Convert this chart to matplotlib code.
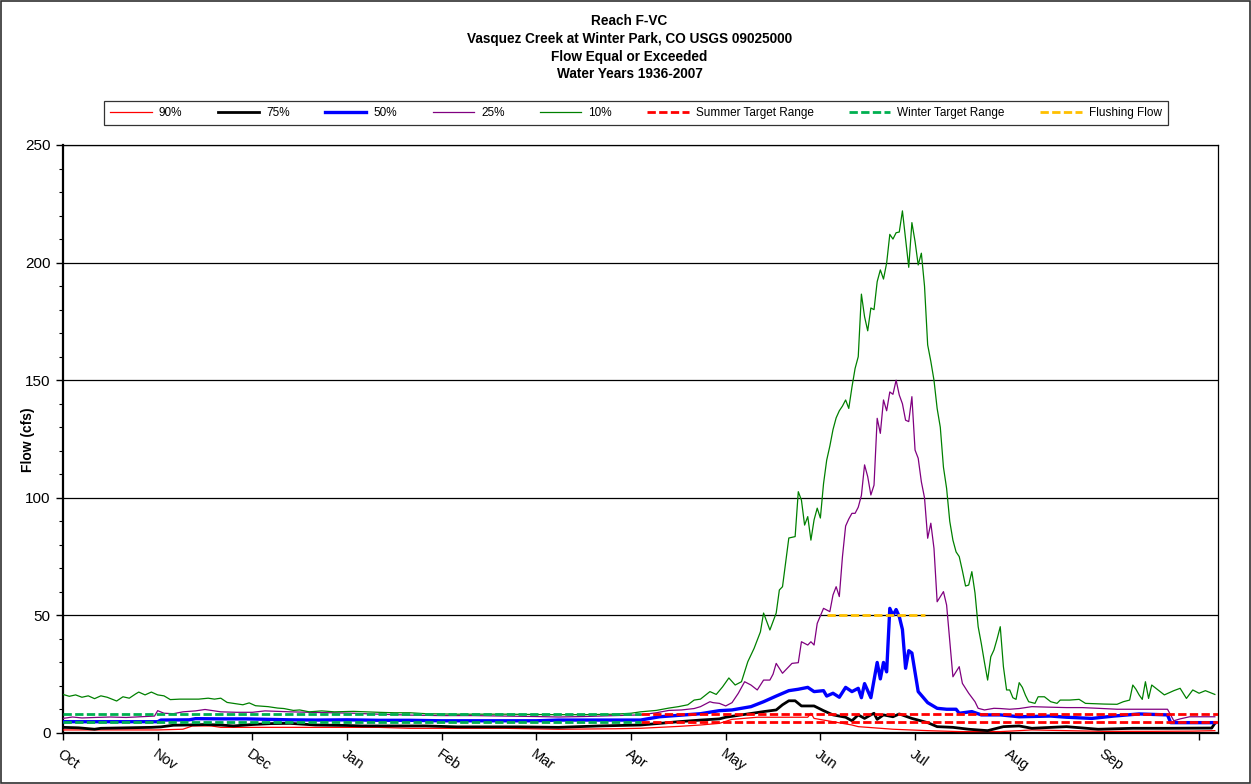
import matplotlib
matplotlib.use('Agg')
import matplotlib.pyplot as plt
from matplotlib.patches import Rectangle
from matplotlib.ticker import MultipleLocator

plt.rcParams['font.family'] = ['Liberation Sans', 'DejaVu Sans']

# ---------------- data ----------------
title_lines = ["Reach F-VC",
               "Vasquez Creek at Winter Park, CO USGS 09025000",
               "Flow Equal or Exceeded",
               "Water Years 1936-2007"]
month_labels = ['Oct', 'Nov', 'Dec', 'Jan', 'Feb', 'Mar', 'Apr', 'May', 'Jun', 'Jul', 'Aug', 'Sep', '']
month_ticks = [0, 30, 60, 90, 120, 150, 180, 210, 240, 270, 300, 330, 360]

# 90% exceedance
d90 = [0, 10, 20, 30, 38, 41, 47, 50, 60, 80, 100, 110, 120, 140, 157, 175, 183, 195, 202, 208, 212,
       220, 228, 236, 237, 238, 244, 250, 252, 263, 274, 284, 297, 303, 307, 318, 330, 345, 358, 365]
q90 = [1.3, 1.3, 1.3, 1.3, 1.6, 3.0, 3.0, 2.4, 2.4, 2.4, 2.4, 2.0, 2.0, 2.0, 1.6, 1.8, 2.0, 2.8, 3.4, 4.1, 5.8,
       6.7, 6.7, 6.7, 8.4, 6.2, 4.8, 3.4, 2.7, 1.6, 1.0, 0.6, 0.6, 1.0, 1.3, 1.0, 0.7, 0.7, 0.8, 1.0]

# 75% exceedance
d75 = [0, 5, 10, 12, 20, 28, 31, 35, 40, 45, 50, 54, 60, 66, 72, 80, 90, 95, 105, 115, 125, 135, 145, 157,
       170, 183, 190, 195, 202, 208, 210, 215, 222, 226, 228, 230, 232, 234, 238, 241, 244, 248, 250, 252,
       254, 256, 257, 258, 260, 263, 265, 269, 274, 277, 282, 287, 293, 298, 303, 307, 318, 328, 339, 350,
       364, 365]
q75 = [2.4, 2.2, 1.6, 2.0, 2.2, 2.4, 2.6, 3.3, 3.4, 3.6, 3.4, 3.0, 3.6, 4.0, 4.1, 3.4, 3.2, 3.0, 3.0, 3.0,
       2.6, 2.6, 2.6, 2.4, 3.0, 3.4, 4.2, 4.8, 5.5, 6.0, 6.7, 7.7, 9.1, 9.8, 12.0, 13.7, 13.7, 11.5, 11.5,
       9.5, 7.7, 6.7, 5.2, 7.7, 6.2, 7.7, 8.4, 5.8, 7.7, 6.9, 8.1, 6.2, 4.4, 2.7, 2.4, 1.6, 1.0, 2.7, 3.0,
       2.0, 2.7, 1.6, 2.0, 2.0, 2.1, 4.1]

# 50% exceedance
d50 = [0, 30, 31, 40, 42, 50, 58, 65, 72, 80, 90, 100, 110, 120, 150, 157, 183, 189, 196, 202, 208, 212,
       218, 222, 226, 230, 233, 236, 238, 241, 242, 244, 246, 248, 250, 252, 253, 254, 256, 258, 259, 260,
       261, 262, 263, 264, 265, 266, 267, 268, 269, 271, 274, 277, 280, 283, 284, 288, 291, 297, 303, 313,
       318, 326, 333, 341, 350, 351, 365]
q50 = [4.8, 4.8, 5.5, 5.6, 6.1, 6.0, 6.0, 5.8, 5.6, 5.5, 5.6, 5.4, 5.4, 5.2, 5.2, 5.5, 5.5, 6.9, 7.6, 8.2,
       9.5, 9.8, 11.2, 13.3, 15.7, 18.0, 18.6, 19.4, 17.6, 18.0, 15.7, 16.9, 15.2, 19.4, 17.6, 19.0, 15.0,
       21.0, 15.0, 30.0, 23.0, 30.0, 26.0, 53.0, 50.0, 52.5, 49.5, 44.0, 27.5, 35.0, 34.0, 17.6, 12.9, 10.5,
       10.1, 10.1, 8.4, 9.1, 7.7, 7.7, 6.9, 7.2, 6.7, 6.2, 7.2, 8.1, 7.7, 4.4, 4.4]

# 25% exceedance
d25 = [0, 3, 6, 10, 15, 20, 26, 29, 30, 32, 35, 38, 42, 45, 47, 50, 55, 60, 64, 68, 72, 78, 85, 92, 100,
       110, 120, 130, 140, 150, 157, 165, 175, 183, 188, 192, 196, 200, 202, 205, 206, 208, 210, 212, 214,
       216, 218, 220, 222, 224, 225, 226, 228, 231, 233, 234, 236, 237, 238, 239, 241, 243, 244, 245, 246,
       247, 248, 249, 250, 251, 252, 253, 254, 255, 256, 257, 258, 259, 260, 261, 262, 263, 264, 265, 266,
       267, 268, 269, 270, 271, 272, 273, 274, 275, 276, 277, 279, 280, 282, 284, 285, 286, 287, 289, 290,
       292, 295, 297, 300, 303, 307, 312, 318, 323, 328, 334, 342, 350, 352, 354, 357, 365]
q25 = [6.2, 6.8, 6.4, 6.6, 6.8, 6.6, 7.0, 7.2, 9.5, 8.4, 8.2, 9.0, 9.4, 10.0, 9.6, 9.0, 8.8, 8.8, 9.4, 9.2,
       9.0, 8.8, 8.6, 8.4, 8.0, 7.6, 7.4, 7.4, 7.2, 7.0, 6.8, 7.0, 7.4, 7.7, 8.6, 9.6, 9.8, 10.4, 11.2, 13.3,
       12.9, 12.6, 11.5, 12.9, 16.9, 21.8, 20.4, 18.3, 22.5, 22.5, 25.0, 29.6, 25.4, 29.6, 29.9, 38.8, 37.4,
       38.8, 37.4, 46.6, 53.0, 51.6, 58.7, 62.2, 58.0, 75.0, 88.0, 91.0, 93.4, 93.4, 96.0, 101.0, 114.0,
       109.0, 101.2, 105.4, 133.8, 127.4, 141.6, 137.0, 145.0, 144.0, 150.0, 143.7, 140.0, 133.0, 132.4,
       143.0, 120.3, 116.8, 106.8, 100.0, 82.8, 89.2, 78.5, 55.8, 60.1, 54.4, 23.9, 28.2, 21.1, 19.0, 16.9,
       13.3, 10.5, 9.8, 10.5, 10.4, 10.1, 10.4, 11.2, 11.0, 10.8, 10.8, 10.5, 10.1, 10.1, 10.1, 5.2, 6.0,
       6.9, 6.9]

# 10% exceedance
d10 = [0, 2, 4, 6, 8, 10, 12, 14, 17, 19, 21, 23, 24, 26, 28, 30, 32, 34, 37, 43, 46, 48, 50, 52, 54, 57,
       59, 61, 65, 68, 70, 73, 75, 78, 82, 86, 92, 96, 100, 105, 110, 115, 125, 140, 155, 165, 175, 180, 183,
       188, 192, 195, 198, 200, 202, 205, 207, 209, 211, 213, 215, 217, 219, 221, 222, 224, 226, 227, 228,
       230, 232, 233, 234, 235, 236, 237, 238, 239, 240, 241, 242, 243, 244, 245, 246, 247, 248, 249, 250,
       251, 252, 253, 254, 255, 256, 257, 258, 259, 260, 261, 262, 263, 264, 265, 266, 267, 268, 269, 270,
       271, 272, 273, 274, 275, 276, 277, 278, 279, 280, 281, 282, 283, 284, 285, 286, 287, 288, 289, 290,
       291, 292, 293, 294, 295, 296, 297, 298, 299, 300, 301, 302, 303, 304, 305, 306, 308, 309, 311, 313,
       315, 316, 319, 322, 324, 330, 334, 336, 338, 339, 340, 341, 342, 343, 344, 345, 347, 349, 352, 354,
       356, 358, 360, 362, 365]
q10 = [16.4, 15.6, 16.2, 15.2, 15.8, 14.6, 15.8, 15.2, 13.6, 15.4, 14.8, 16.6, 17.4, 16.2, 17.4, 16.2,
       15.8, 14.2, 14.4, 14.4, 14.8, 14.4, 14.8, 13.0, 12.6, 12.0, 12.8, 11.6, 11.2, 10.6, 10.4, 9.6, 9.8,
       9.0, 9.4, 9.0, 9.2, 9.0, 8.8, 8.6, 8.6, 8.2, 8.0, 8.0, 7.8, 7.8, 8.0, 8.4, 9.0, 9.6, 10.6, 11.2,
       12.0, 14.0, 14.4, 17.6, 16.4, 19.6, 23.4, 20.4, 21.8, 30.3, 36.0, 43.0, 51.0, 43.8, 51.0, 60.8,
       62.2, 82.9, 83.5, 102.6, 99.0, 88.4, 92.0, 82.0, 90.6, 95.6, 91.4, 106.0, 116.0, 122.0, 129.0, 134.0,
       137.0, 139.0, 141.6, 138.0, 147.0, 155.0, 160.0, 186.6, 177.0, 171.0, 180.7, 180.0, 191.9, 196.9,
       193.0, 199.8, 212.0, 210.0, 212.7, 213.0, 222.0, 210.0, 198.0, 217.0, 209.0, 199.0, 204.0, 190.0,
       165.0, 158.0, 150.0, 138.0, 130.0, 113.0, 104.0, 90.0, 82.0, 77.0, 75.0, 69.0, 62.5, 62.9, 68.6,
       59.5, 45.2, 38.0, 30.0, 22.5, 32.4, 35.3, 40.0, 45.2, 28.2, 18.3, 18.3, 15.0, 14.3, 21.4, 19.4, 16.0,
       13.3, 12.6, 15.4, 15.4, 13.3, 12.6, 14.0, 14.0, 14.3, 12.6, 12.3, 12.2, 13.3, 14.0, 20.4, 18.6, 16.2,
       14.3, 21.8, 14.7, 20.4, 18.3, 16.2, 18.0, 19.0, 14.7, 18.3, 16.9, 18.0, 16.4]

# target ranges (cfs) and periods (day of water year)
target_high = 8.0
target_low = 4.5
winter_days = [0, 183]
summer_days = [183, 366]
flushing_days = [242, 273]
flushing_flow = 50.0

# ---------------- figure ----------------
W, H = 1251, 784
fig = plt.figure(figsize=(W / 100, H / 100), dpi=100)
fig.patch.set_facecolor('white')
fig.add_artist(Rectangle((0.0008, 0.0013), 0.9984, 0.9974, transform=fig.transFigure,
                         fill=False, edgecolor='#303030', linewidth=1.2))

ax = fig.add_axes([63 / W, 1 - 733 / H, (1218 - 63) / W, (733 - 145) / H])

ax.plot(d90, q90, color='#FF0000', lw=0.9, label='90%', zorder=3)
ax.plot(d75, q75, color='black', lw=2.0, label='75%', zorder=3)
ax.plot(d50, q50, color='#0000FF', lw=2.4, label='50%', zorder=3)
ax.plot(d25, q25, color='#800080', lw=0.9, label='25%', zorder=3)
ax.plot(d10, q10, color='#008000', lw=0.9, label='10%', zorder=3)

dash = (3.0, 1.2)
ax.plot(summer_days, [target_high] * 2, color='#FF0000', lw=2.0, dashes=dash,
        label='Summer Target Range', zorder=4)
ax.plot(summer_days, [target_low] * 2, color='#FF0000', lw=2.0, dashes=dash, zorder=4)
ax.plot(winter_days, [target_high] * 2, color='#00B050', lw=2.0, dashes=dash,
        label='Winter Target Range', zorder=4)
ax.plot(winter_days, [target_low] * 2, color='#00B050', lw=2.0, dashes=dash, zorder=4)
ax.plot(flushing_days, [flushing_flow] * 2, color='#FFC000', lw=2.0, dashes=dash,
        label='Flushing Flow', zorder=4)

ax.set_xlim(0, 366)
ax.set_ylim(0, 250)
ax.set_yticks([0, 50, 100, 150, 200, 250])
ax.yaxis.set_minor_locator(MultipleLocator(10))
ax.grid(axis='y', which='major', color='black', lw=0.9, zorder=1)
ax.set_axisbelow(True)

ax.set_xticks(month_ticks)
ax.set_xticklabels(month_labels, rotation=-35, ha='left', va='top',
                   rotation_mode='anchor', fontsize=10.5)
ax.tick_params(axis='x', which='major', direction='out', length=5, width=1, pad=5)
ax.tick_params(axis='y', which='major', direction='out', length=5, width=1, labelsize=11, pad=4)
ax.tick_params(axis='y', which='minor', direction='out', length=3, width=0.8)

for side in ['top', 'right']:
    ax.spines[side].set_linewidth(0.9)
for side in ['left', 'bottom']:
    ax.spines[side].set_linewidth(1.6)

fig.text(28 / W, 1 - 440 / H, 'Flow (cfs)', rotation=90, ha='center', va='center',
         fontsize=10, fontweight='bold')

for i, line in enumerate(title_lines):
    fig.text(0.5 + 4 / W, 1 - (21 + 17.8 * i) / H, line, ha='center', va='center',
             fontsize=9.8, fontweight='bold')

handles, labels = ax.get_legend_handles_labels()
leg = fig.legend(handles, labels, loc='center', bbox_to_anchor=(636 / W, 1 - 113 / H),
                 ncol=8, fontsize=8.5, frameon=True, fancybox=False, edgecolor='black',
                 handlelength=3.5, handletextpad=0.6, columnspacing=3.0,
                 borderpad=0.55)
leg.get_frame().set_linewidth(0.9)

fig.savefig('out.png', dpi=100, facecolor='white')
